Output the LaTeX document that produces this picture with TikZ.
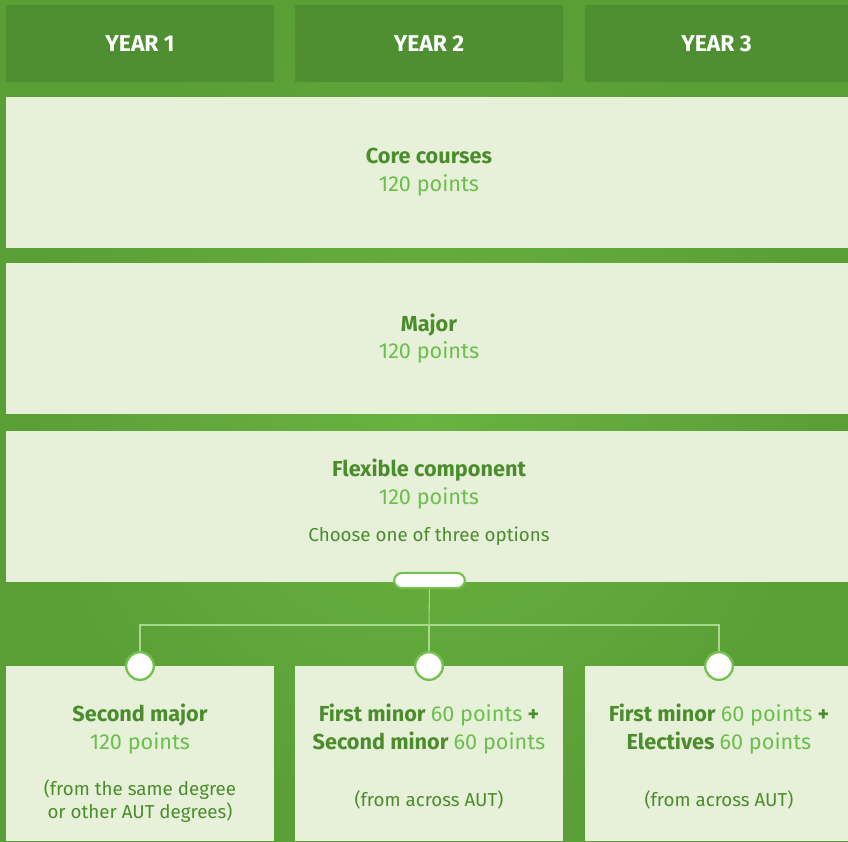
\documentclass[tikz,border=0pt]{standalone}
\usepackage{fontspec}
\setmainfont{Fira Sans}
\usetikzlibrary{positioning}

\definecolor{bggreen}{HTML}{5A9E36}
\definecolor{bglight}{HTML}{6AB33F}
\definecolor{headgreen}{HTML}{4F8F32}
\definecolor{paleclr}{HTML}{E7F1D9}
\definecolor{darkclr}{HTML}{4B8D2D}
\definecolor{ptclr}{HTML}{6BBF4B}
\definecolor{ringclr}{HTML}{74C14F}
\definecolor{wireclr}{HTML}{A8D88C}

\newcommand{\pts}[1]{{\mdseries\color{ptclr}#1}}

\begin{document}
\begin{tikzpicture}[x=0.3mm,y=-0.3mm,
  headbox/.style={fill=headgreen,inner sep=0pt,minimum height=23.1mm,
    text=white,font=\fontsize{19.5}{22}\selectfont\bfseries},
  rowbox/.style={fill=paleclr,inner sep=0pt,minimum width=252.6mm,minimum height=45.3mm},
  optbox/.style={fill=paleclr,inner sep=0pt,minimum height=52.5mm},
  lbl/.style={align=center,text=darkclr,inner sep=0pt,font=\fontsize{18.5}{23.8}\selectfont},
  note/.style={align=center,text=darkclr,inner sep=0pt,font=\fontsize{16}{20.4}\selectfont},
  pick/.style={circle,draw=ringclr,line width=2pt,fill=white,minimum size=8.3mm,inner sep=0pt},
  wire/.style={draw=wireclr,line width=0.9pt}]

 % background
 \shade[inner color=bglight,outer color=bggreen] (0,0) rectangle (848,841);
 \useasboundingbox (0,0) rectangle (848,841);

 % year headings
 \node[headbox,minimum width=80.4mm] (year1) at (140,43.5) {YEAR 1};
 \node[headbox,minimum width=80.4mm] (year2) at (429,43.5) {YEAR 2};
 \node[headbox,minimum width=78.9mm] (year3) at (716.5,43.5) {YEAR 3};

 % the three full-width bands
 \node[rowbox] (core) at (427,172) {};
 \node[rowbox] (major) at (427,338.5) {};
 \node[rowbox] (flex) at (427,506.5) {};

 \node[lbl] (coretxt) at (429,172) {\bfseries Core courses\\\pts{120 points}};
 \node[lbl] (majortxt) at (429,338.5) {\bfseries Major\\\pts{120 points}};
 \node[lbl,anchor=north] (flextxt) at (429,459) {\bfseries Flexible component\\\pts{120 points}};
 \node[note] (choose) at (429,536) {Choose one of three options};

 % option boxes
 \node[optbox,minimum width=80.4mm] (box1) at (140,753.5) {};
 \node[optbox,minimum width=80.4mm] (box2) at (429,753.5) {};
 \node[optbox,minimum width=78.9mm] (box3) at (716.5,753.5) {};

 \node[lbl,anchor=north] (box1txt) at (140,704) {\bfseries Second major\\\pts{120 points}};
 \node[note,anchor=north] (box1note) at (140,779) {(from the same degree\\or other AUT degrees)};
 \node[lbl,anchor=north] (box2txt) at (429,704) {\bfseries First minor \pts{60 points} +\\\bfseries Second minor \pts{60 points}};
 \node[note] (box2note) at (429,800) {(from across AUT)};
 \node[lbl,anchor=north] (box3txt) at (719,704) {\bfseries First minor \pts{60 points} +\\\bfseries Electives \pts{60 points}};
 \node[note] (box3note) at (719,800) {(from across AUT)};

 % the chooser
 \node[draw=ringclr,line width=1.8pt,fill=white,rounded corners=2.5mm,
   minimum width=21.3mm,minimum height=4.6mm,inner sep=0pt] (pick) at (429.5,580.5) {};
 \coordinate (split) at (429,625);
 \node[pick] (opt1) at (140,666) {};
 \node[pick] (opt2) at (429,666) {};
 \node[pick] (opt3) at (719,666) {};

 \draw[wire] (pick.south) -- (split); % stem
 \draw[wire] (opt1.north) |- (split) -| (opt3.north); % cross bar
 \draw[wire] (split) -- (opt2.north);

\end{tikzpicture}
\end{document}
